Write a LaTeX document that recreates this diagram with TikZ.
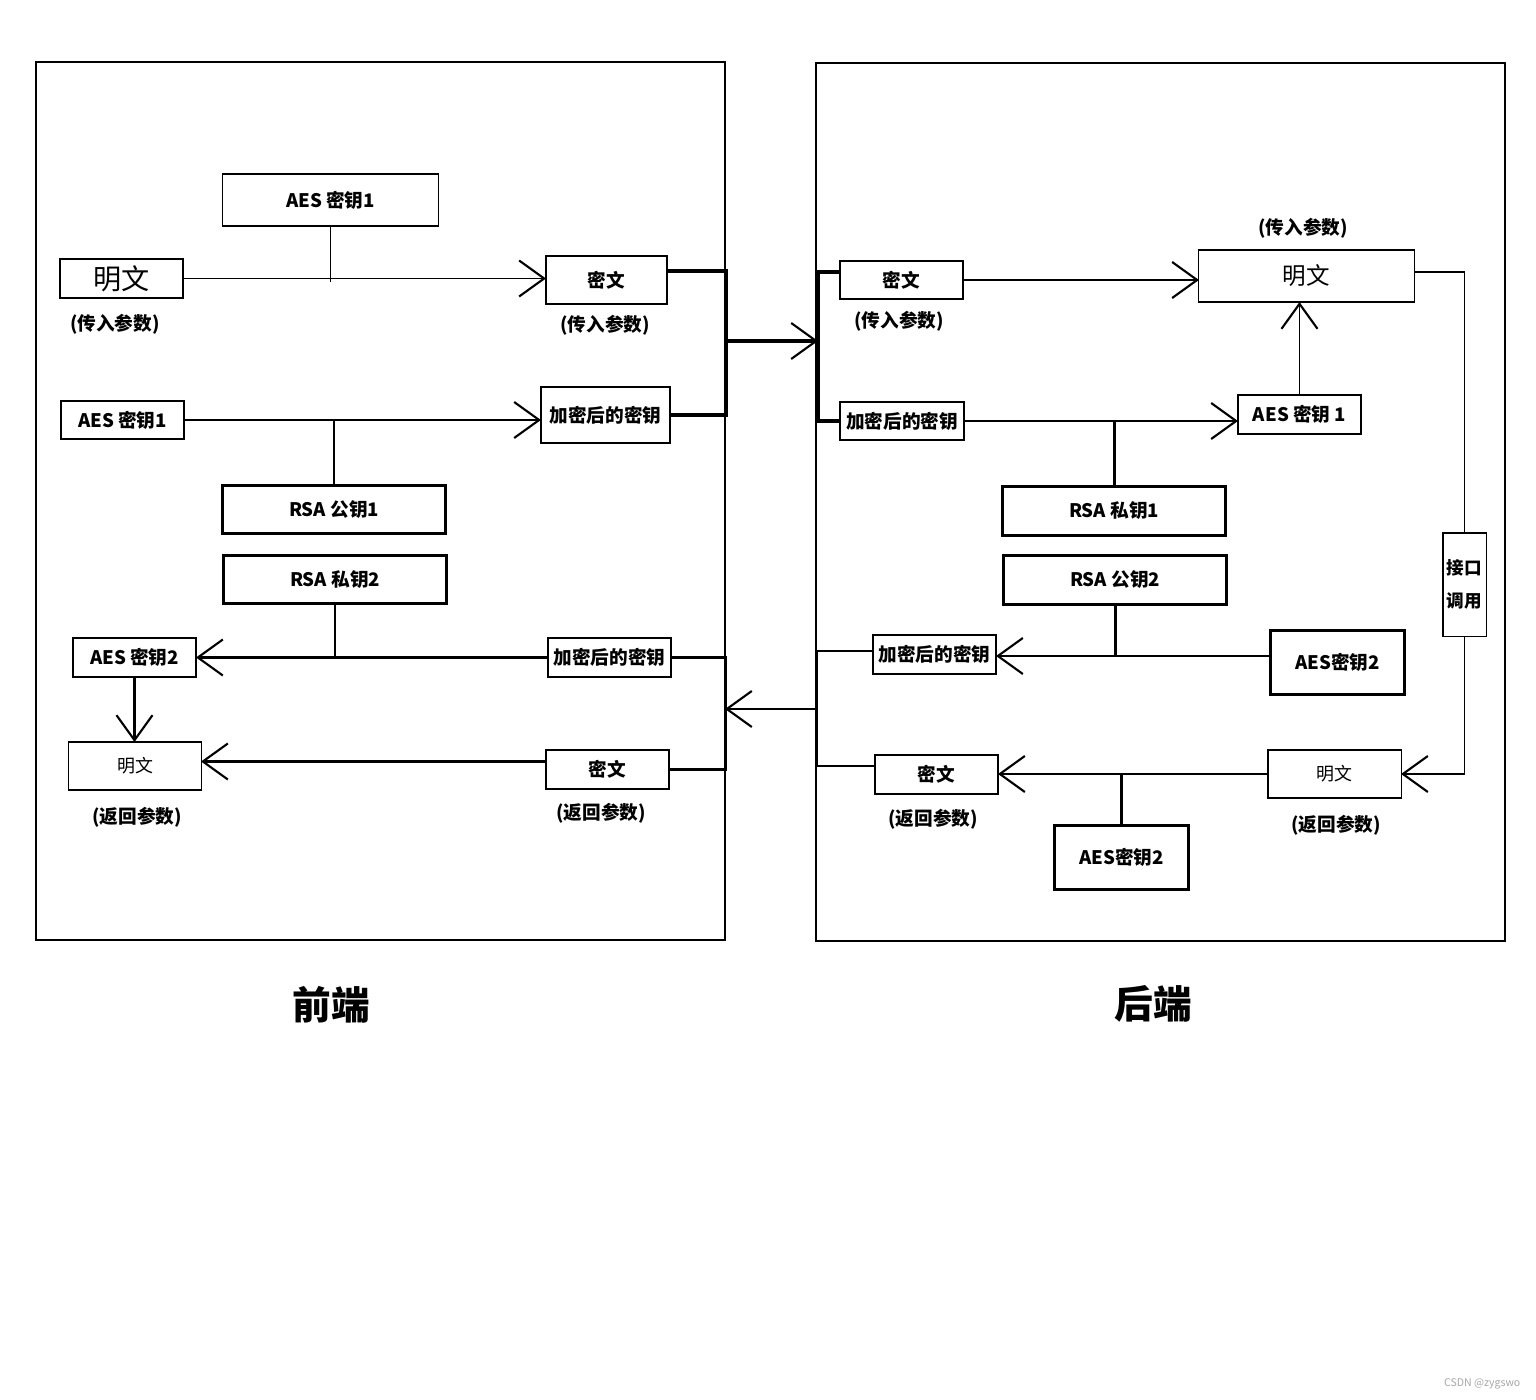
\documentclass[tikz,border=0pt]{standalone}
\usepackage{fontspec}
\setmainfont{Noto Sans CJK SC}
\usepackage{tikz}
\usetikzlibrary{arrows.meta}
\usetikzlibrary{positioning}

\newcommand{\boxfont}{\fontsize{5.3}{6.4}\selectfont\bfseries}
\newcommand{\plainfont}{\fontsize{5.1}{6.2}\selectfont}
\newcommand{\titlefont}{\fontsize{11}{13}\selectfont\bfseries}

\begin{document}
\begin{tikzpicture}[x=0.01cm, y=-0.01cm,
    box/.style={draw, inner sep=0pt, outer sep=0pt, font=\boxfont},
    boxsize/.style 2 args={minimum width=#1mm, minimum height=#2mm},
    thinline/.style={line width=0.3pt},
    medline/.style={line width=0.55pt},
    thickline/.style={line width=0.85pt},
    busline/.style={line width=1.35pt},
    vtip/.style={-{Straight Barb[length=2.5mm, width=3.6mm, line width=0.6pt]}},
    note/.style={font=\boxfont, inner sep=0pt}]

    \useasboundingbox (0,0) rectangle (1536,1400);

    % two panels
    \draw[thinline] (36,62) rectangle (725,940);
    \draw[thinline] (816,63) rectangle (1505,941);

    % front end
    \node[box, thinline, boxsize={21.5}{5.2}] (aesA) at (330.5,200) {AES 密钥1};
    \node[box, medline, boxsize={12.3}{3.9}, font=\fontsize{8}{9}\selectfont] (plainA) at (121.5,278.5) {明文};
    \node[box, medline, boxsize={12.1}{4.8}] (cipherA) at (606.5,280) {密文};
    \node[box, medline, boxsize={12.3}{3.8}] (aesB) at (122.5,420) {AES 密钥1};
    \node[box, medline, boxsize={12.9}{5.6}] (enckeyA) at (605.5,415) {加密后的密钥};
    \node[box, thickline, boxsize={22.2}{4.7}] (rsapubA) at (334,509.5) {RSA 公钥1};
    \node[box, thickline, boxsize={22.2}{4.7}] (rsaprivA) at (335,579.5) {RSA 私钥2};
    \node[box, medline, boxsize={12.3}{3.9}] (aesC) at (134.5,657.5) {AES 密钥2};
    \node[box, medline, boxsize={12.3}{3.9}] (enckeyB) at (609.5,657.5) {加密后的密钥};
    \node[box, thinline, boxsize={13.2}{4.8}, font=\plainfont] (plainB) at (135,766) {明文};
    \node[box, medline, boxsize={12.3}{3.9}] (cipherB) at (607.5,769.5) {密文};

    \node[note] (inA) at (115,324) {(传入参数)};
    \node[note] (inB) at (605,325) {(传入参数)};
    \node[note] (outA) at (137,817) {(返回参数)};
    \node[note] (outB) at (601,813) {(返回参数)};

    % back end
    \node[box, medline, boxsize={12.3}{3.8}] (cipherC) at (901.5,280) {密文};
    \node[box, thinline, boxsize={21.5}{5.2}, font=\fontsize{6.7}{8}\selectfont] (plainC) at (1306.5,276) {明文};
    \node[box, medline, boxsize={12.4}{3.8}] (enckeyC) at (902,421) {加密后的密钥};
    \node[box, medline, boxsize={12.3}{3.9}] (aesD) at (1299.5,414.5) {AES 密钥 1};
    \node[box, thickline, boxsize={22.2}{4.8}] (rsaprivB) at (1114,511) {RSA 私钥1};
    \node[box, thickline, boxsize={22.2}{4.8}] (rsapubB) at (1115,580) {RSA 公钥2};
    \node[box, thickline, boxsize={13.3}{6.3}] (aesE) at (1337.5,662.5) {AES密钥2};
    \node[box, medline, boxsize={12.3}{3.9}] (enckeyD) at (934.5,654.5) {加密后的密钥};
    \node[box, thinline, boxsize={13.3}{4.8}, font=\plainfont] (plainD) at (1334.5,774) {明文};
    \node[box, medline, boxsize={12.3}{3.9}] (cipherD) at (936.5,774.5) {密文};
    \node[box, thickline, boxsize={13.3}{6.3}] (aesF) at (1121.5,857.5) {AES密钥2};
    \node[box, thinline, boxsize={4.3}{10.3}, align=center, font=\fontsize{5}{9.4}\selectfont\bfseries] (api) at (1464.5,584.5) {接口\\调用};

    \node[note] (inC) at (899,321) {(传入参数)};
    \node[note] (inD) at (1303,228) {(传入参数)};
    \node[note] (outC) at (933,819) {(返回参数)};
    \node[note] (outD) at (1336,825) {(返回参数)};

    \node[font=\titlefont] (front) at (331,1005) {前端};
    \node[font=\titlefont] (back) at (1153,1004) {后端};
    \node[font=\fontsize{3}{4}\selectfont, text=gray!70, anchor=east, inner sep=0pt] (mark) at (1521,1384) {CSDN @zygswo};

    % bus points between the panels
    \coordinate (busL) at (726,341);
    \coordinate (busR) at (818,341);
    \coordinate (busL2) at (725,709);
    \coordinate (busR2) at (816,709);
    \coordinate (joinE) at ([yshift=0.65mm]aesE.west);

    % front end connectors
    \draw[medline, vtip] (plainA.east) -- (plainA.east -| cipherA.west);
    \draw[thinline] (aesA.south) -- ([yshift=-0.3mm]aesA.south |- plainA.east);
    \draw[medline, vtip] (aesB.east) -- (aesB.east -| enckeyA.west);
    \draw[medline] (rsapubA.north) -- (rsapubA.north |- aesB.east);
    \draw[thickline] (rsaprivA.south) -- (rsaprivA.south |- enckeyB.west);
    \draw[thickline, vtip] (enckeyB.west) -- (aesC.east);
    \draw[thickline, vtip] (aesC.south) -- (aesC.south |- plainB.north);
    \draw[thickline, vtip] ([yshift=0.8mm]cipherB.west) -- ([yshift=0.8mm]cipherB.west -| plainB.east);

    % between the panels
    \draw[busline] ([yshift=0.9mm]cipherA.east) -- ([yshift=0.9mm]cipherA.east -| busL)
        -- (enckeyA.east -| busL) -- (enckeyA.east);
    \draw[busline, vtip] (busL) -- (busR);
    \draw[busline] ([yshift=0.8mm]cipherC.west) -- ([yshift=0.8mm]cipherC.west -| busR)
        -- (enckeyC.west -| busR) -- (enckeyC.west);
    \draw[thickline] (enckeyB.east) -- (enckeyB.east -| busL2) -- (cipherB.east -| busL2) -- (cipherB.east);
    \draw[thickline, vtip] (busR2) -- (busL2);
    \draw[thickline] ([yshift=0.35mm]enckeyD.west) -- ([yshift=0.35mm]enckeyD.west -| busR2)
        -- ([yshift=0.85mm]cipherD.west -| busR2) -- ([yshift=0.85mm]cipherD.west);

    % back end connectors
    \draw[thinline, vtip] (cipherC.east) -- (cipherC.east -| plainC.west);
    \draw[medline, vtip] (enckeyC.east) -- (enckeyC.east -| aesD.west);
    \draw[thickline] (rsaprivB.north) -- (rsaprivB.north |- enckeyC.east);
    \draw[thinline, vtip] (aesD.north) -- (aesD.north |- plainC.south);
    \draw[thickline] (rsapubB.south) -- (rsapubB.south |- joinE);
    \draw[thickline, vtip] (joinE) -- (joinE -| enckeyD.east);
    \draw[thickline, vtip] (plainD.west) -- (plainD.west -| cipherD.east);
    \draw[thickline] (aesF.north) -- (aesF.north |- plainD.west);
    \draw[thinline] ([yshift=0.4mm]plainC.east) -| (api.north);
    \draw[thinline, vtip] (api.south) |- (plainD.east);
\end{tikzpicture}
\end{document}
